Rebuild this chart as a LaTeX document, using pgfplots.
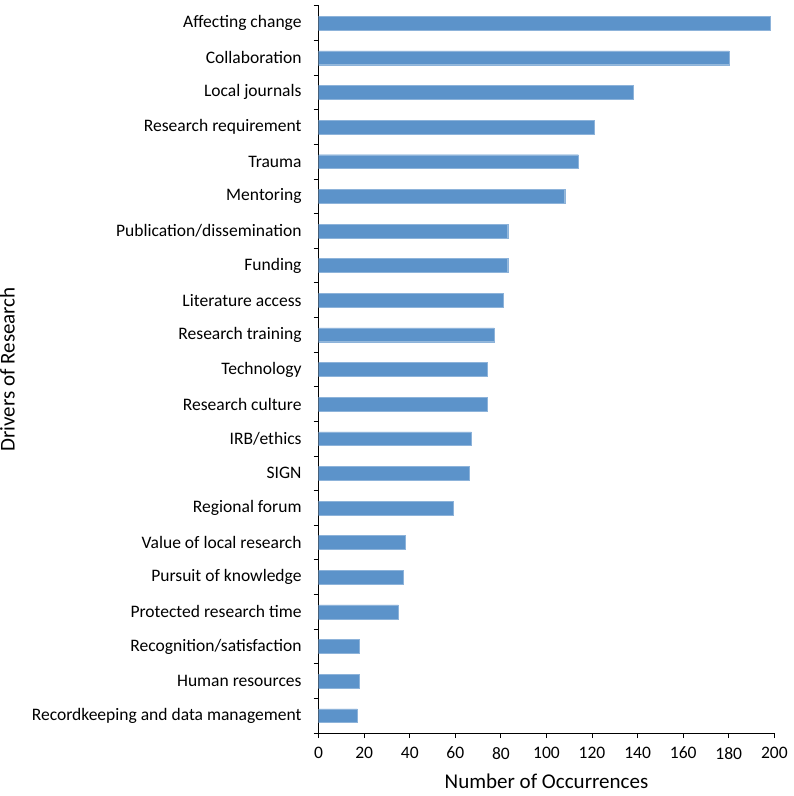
\documentclass[border=0pt]{standalone}
\usepackage{pgfplots}
\pgfplotsset{compat=1.18}
\usepackage{fontspec}
\setmainfont{Carlito}
\definecolor{barblue}{RGB}{92,147,202}
\begin{document}
\fontsize{17.5}{21}\selectfont
\begin{tikzpicture}
\begin{axis}[
  scale only axis,
  width=455pt, height=726pt,
  xbar, bar width=0.4,
  xmin=0, xmax=200,
  ymin=-0.5, ymax=20.5,
  y dir=reverse,
  axis lines=left,
  axis line style={-, thick},
  xtick={0,20,...,200},
  ytick={-0.5,0.5,...,20.5},
  yticklabels={},
  extra y ticks={0,...,20},
  extra y tick labels={Affecting change,Collaboration,Local journals,Research requirement,Trauma,Mentoring,Publication/dissemination,Funding,Literature access,Research training,Technology,Research culture,IRB/ethics,SIGN,Regional forum,Value of local research,Pursuit of knowledge,Protected research time,Recognition/satisfaction,Human resources,Recordkeeping and data management},
  extra y tick style={tick style={draw=none}},
  major tick length=5pt,
  tick align=outside,
  tick style={thick, black},
  /pgf/number format/assume math mode=true,
  ticklabel style={font=\fontsize{17.5}{21}\selectfont},
  xticklabel style={yshift=-3pt},
  yticklabel style={xshift=-6pt},
  xlabel={Number of Occurrences},
  ylabel={Drivers of Research},
  label style={font=\fontsize{21}{25}\selectfont},
  xlabel style={inner xsep=0pt, inner ysep=7pt, yshift=-2pt},
  ylabel style={inner sep=0pt, yshift=6pt},
]
\addplot[fill=barblue, draw=barblue!70!white] coordinates {
(198,0) (180,1) (138,2) (121,3) (114,4) (108,5) (83,6) (83,7) (81,8) (77,9) (74,10) (74,11) (67,12) (66,13) (59,14) (38,15) (37,16) (35,17) (18,18) (18,19) (17,20)
};
\end{axis}
\end{tikzpicture}
\end{document}
